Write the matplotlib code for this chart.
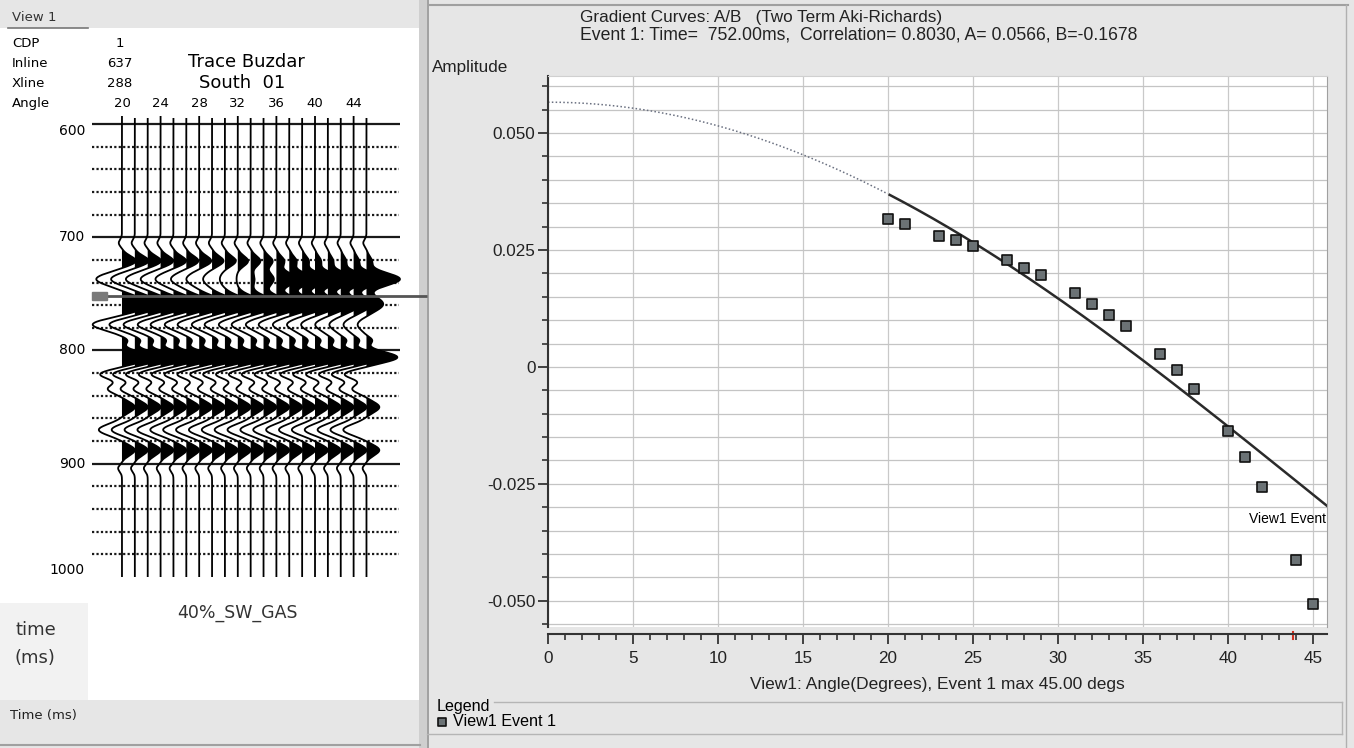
import numpy as np
import matplotlib
matplotlib.use("Agg")
import matplotlib.pyplot as plt
from matplotlib.patches import Rectangle
from matplotlib.ticker import MultipleLocator

W, H = 1354, 748

# ---- AVO gradient data: View1 Event 1 ----
angles = [20, 21, 23, 24, 25, 27, 28, 29, 31, 32, 33, 34, 36, 37, 38, 40, 41, 42, 44, 45]
amplitudes = [0.0316, 0.0306, 0.0280, 0.0271, 0.0259, 0.0229, 0.0212, 0.0197, 0.0158, 0.0135,
              0.0111, 0.0088, 0.0028, -0.0006, -0.0047, -0.0137, -0.0192, -0.0256, -0.0412, -0.0506]
A_INTERCEPT = 0.0566
B_GRADIENT = -0.1678
CORRELATION = 0.8030
EVENT_TIME = 752.0
MAX_ANGLE = 45.0

# ---- gather header / axes labels ----
header_names = ["CDP", "Inline", "Xline", "Angle"]
header_values = ["1", "637", "288"]
angle_labels = [20, 24, 28, 32, 36, 40, 44]
time_labels = [600, 700, 800, 900, 1000]
dotted_times = [620, 640, 660, 680, 720, 740, 760, 780, 820, 840, 860, 880, 920, 940, 960, 980]

# ---- wiggle traces: lobes (ms, width ms, amplitude in trace spacings) ----
lobe_times = [705, 721, 737, 759, 777, 791, 806, 821, 834, 850, 870, 888, 904]
lobe_widths = [3, 4.5, 5.5, 6, 5, 3, 4.6, 4, 4, 4.5, 5, 4.5, 3]
amp_721 = [1.1, 1.1, 1.05, 1.0, 1.0, 0.95, 0.95, 0.9, 0.85, 0.8,
           0.75, 0.7, 0.6, 0.55, 0.5, 0.45, 0.4, 0.4, 0.4, 0.4]
amp_737 = [-2.0, -1.85, -1.7, -1.55, -1.4, -1.2, -1.0, -0.7, -0.4, -0.1,
           0.3, 0.8, 1.6, 1.9, 2.1, 2.2, 2.3, 2.4, 2.5, 2.6]
amp_759 = [2.3, 2.3, 2.3, 2.3, 2.3, 2.3, 2.3, 2.3, 2.3, 2.3,
           2.3, 2.3, 2.3, 2.3, 2.2, 2.0, 1.8, 1.6, 1.45, 1.3]
amp_777 = [-2.3, -2.0, -1.9, -1.8, -1.8, -1.7, -1.7, -1.6, -1.6, -1.5,
           -1.5, -1.4, -1.4, -1.3, -1.2, -1.1, -1.0, -0.9, -0.8, -0.7]
lobe_amps = [-0.25, amp_721, amp_737, amp_759, amp_777, 0.45, 2.4, -1.7, -1.1, 1.0, -1.8, 1.0, -0.3]

SANS = ["DejaVu Sans"]
UI = ["Liberation Sans", "DejaVu Sans"]
plt.rcParams["font.family"] = SANS

fig = plt.figure(figsize=(W / 100, H / 100), dpi=100)
fig.patch.set_facecolor("#e6e6e6")


def px_axes(x0, y0, x1, y1):
    return fig.add_axes([x0 / W, 1 - y1 / H, (x1 - x0) / W, (y1 - y0) / H])


# background layer in pixel coordinates
bg = px_axes(0, 0, W, H)
bg.set_xlim(0, W)
bg.set_ylim(H, 0)
bg.axis("off")
bg.set_zorder(0)
bg.add_patch(Rectangle((0, 28), 420, 672, color="white", lw=0))
bg.add_patch(Rectangle((0, 603), 88, 97, color="#f2f2f2", lw=0))
bg.add_patch(Rectangle((419, 0), 10, H, color="#cfcfcf", lw=0))
bg.plot([428, 428], [0, H], color="#9a9a9a", lw=1.2)
bg.plot([430, 1348], [5, 5], color="#a0a0a0", lw=1.5)
bg.plot([1346, 1346], [5, H], color="#b0b0b0", lw=1)
bg.plot([0, 420], [745, 745], color="#a0a0a0", lw=1.5)
bg.plot([8, 88], [28, 28], color="#777777", lw=1.2)

# left panel text
bg.text(12, 17, "View 1", fontsize=9.5, va="center", color="#333333")
for k, nm in enumerate(header_names):
    bg.text(12, 43 + 20 * k, nm, fontsize=9.5, va="center")
for k, v in enumerate(header_values):
    bg.text(120, 43 + 20 * k, v, fontsize=9.5, va="center", ha="center")
bg.text(246, 62, "Trace Buzdar", fontsize=13, va="center", ha="center")
bg.text(242, 83, "South  01", fontsize=13, va="center", ha="center")
bg.text(237, 613, "40%_SW_GAS", fontsize=12.5, va="center", ha="center", color="#333333")
bg.text(15, 630, "time", fontsize=13, va="center", color="#333333")
bg.text(15, 658, "(ms)", fontsize=13, va="center", color="#333333")
bg.text(10, 716, "Time (ms)", fontsize=9.5, va="center", color="#222222")

# right panel text
bg.text(580, 17, "Gradient Curves: A/B   (Two Term Aki-Richards)", fontsize=12.3, va="center",
        family=UI, color="#222222")
bg.text(580, 35, f"Event 1: Time=  {EVENT_TIME:.2f}ms,  Correlation= {CORRELATION:.4f}, "
        f"A= {A_INTERCEPT:.4f}, B={B_GRADIENT:.4f}", fontsize=12.7, va="center",
        family=UI, color="#222222")
bg.text(432, 67, "Amplitude", fontsize=12.3, va="center", family=UI, color="#222222")
bg.text(937, 684, f"View1: Angle(Degrees), Event 1 max {MAX_ANGLE:.2f} degs", fontsize=12.5,
        va="center", ha="center", family=UI, color="#222222")
bg.plot([494, 1342], [702, 702], color="#b5b5b5", lw=1)
bg.plot([427, 1342], [734, 734], color="#b5b5b5", lw=1)
bg.plot([1342, 1342], [702, 734], color="#b5b5b5", lw=1)

# ---- seismic gather ----
sx = px_axes(88, 115.5, 402, 577)
sx.set_zorder(1)
sx.set_xlim(-2.64, 21.76)
sx.set_ylim(1000, 592.5)
sx.axis("off")
sx.hlines(time_labels[:-1], -2.33, 21.6, color="#1a1a1a", lw=1.6, zorder=1)
sx.hlines(dotted_times, -2.33, 21.5, color="#1a1a1a", lw=1.6, linestyles=(0, (1, 1)), zorder=1)

t = np.arange(592.5, 1000.01, 0.25)
for i, ang in enumerate(angles):
    w = np.zeros_like(t)
    for tc, sig, amp in zip(lobe_times, lobe_widths, lobe_amps):
        a = amp[i] if np.ndim(amp) else amp
        w += a * np.exp(-0.5 * ((t - tc) / sig) ** 2)
    top = 593 if ang in angle_labels else 595.5
    m = t >= top
    sx.fill_betweenx(t[m], i, i + w[m], where=w[m] > 0, color="black", lw=0, interpolate=True, zorder=2)
    sx.plot(i + w[m], t[m], color="black", lw=1.3, zorder=3)

for ang in angle_labels:
    sx.text(angles.index(ang), 581.5, str(ang), fontsize=9.5, ha="center", va="center")
for tl in time_labels:
    va = "top" if tl == time_labels[0] else ("bottom" if tl == time_labels[-1] else "center")
    sx.text(-2.87, tl, str(tl), fontsize=10, ha="right", va=va)

sx.hlines(EVENT_TIME, -2.33, 23.7, color="#555555", lw=2, zorder=4, clip_on=False)
sx.add_patch(Rectangle((-2.33, EVENT_TIME - 3.5), 1.15, 7, color="#7a7a7a", zorder=5, clip_on=False))

# ---- gradient curve plot ----
gx = px_axes(548, 76, 1327, 627)
gx.set_zorder(1)
gx.set_facecolor("white")
gx.set_xlim(0, 45.82)
gx.set_ylim(-0.0556, 0.0622)

gx.xaxis.set_major_locator(MultipleLocator(5))
gx.xaxis.set_minor_locator(MultipleLocator(1))
gx.yaxis.set_minor_locator(MultipleLocator(0.005))
gx.set_yticks([-0.05, -0.025, 0, 0.025, 0.05])
gx.set_yticklabels(["-0.050", "-0.025", "0", "0.025", "0.050"])
gx.grid(True, which="both", axis="y", color="#c4c4c4", lw=0.9)
gx.grid(True, which="major", axis="x", color="#c9c9c9", lw=0.9)
gx.set_axisbelow(True)

gx.spines["bottom"].set_position(("outward", 5))
gx.spines["bottom"].set_color("#333333")
gx.spines["bottom"].set_linewidth(1.5)
gx.spines["left"].set_color("#333333")
gx.spines["left"].set_linewidth(1.5)
gx.spines["top"].set_color("#d0d0d0")
gx.spines["right"].set_color("#a0a0a0")
gx.tick_params(axis="both", which="major", direction="out", length=7, width=1.3, color="#333333",
               labelsize=12.3, labelcolor="#222222", pad=2)
gx.tick_params(axis="both", which="minor", direction="out", length=4.5, width=1.2, color="#333333")
gx.tick_params(axis="x", which="major", pad=5.5)
for lab in gx.get_xticklabels() + gx.get_yticklabels():
    lab.set_family(UI)

th = np.linspace(0, 45.82, 400)
curve = A_INTERCEPT + B_GRADIENT * np.sin(np.radians(th)) ** 2
near = th <= angles[0]
gx.plot(th[near], curve[near], color="#6a7080", lw=1.1, linestyle=(0, (1, 1.5)))
gx.plot(th[th >= angles[0]], curve[th >= angles[0]], color="#2a2a2a", lw=1.8)

sc = gx.scatter(angles, amplitudes, marker="s", s=55, facecolor="#6b7275", edgecolor="#111111",
                lw=1.2, zorder=5, label="View1 Event 1")
gx.text(45.78, -0.0325, "View1 Event", fontsize=10, va="center", ha="right", family=UI)
gx.plot([43.8, 43.8], [-0.0567, -0.0582], color="#d03020", lw=1.5, clip_on=False)

leg = gx.legend(handles=[sc], title="Legend", loc="upper left", bbox_to_anchor=(429 / W, 1 - 691 / H),
                bbox_transform=fig.transFigure, frameon=False, fontsize=11.6, title_fontsize=11.6,
                borderpad=0, handlelength=0.6, handletextpad=0.4, markerscale=0.75,
                alignment="left", labelspacing=0.0)
for txt in leg.get_texts() + [leg.get_title()]:
    txt.set_family(UI)
leg._legend_box.sep = 0

fig.savefig("out.png", dpi=100, facecolor=fig.get_facecolor())
